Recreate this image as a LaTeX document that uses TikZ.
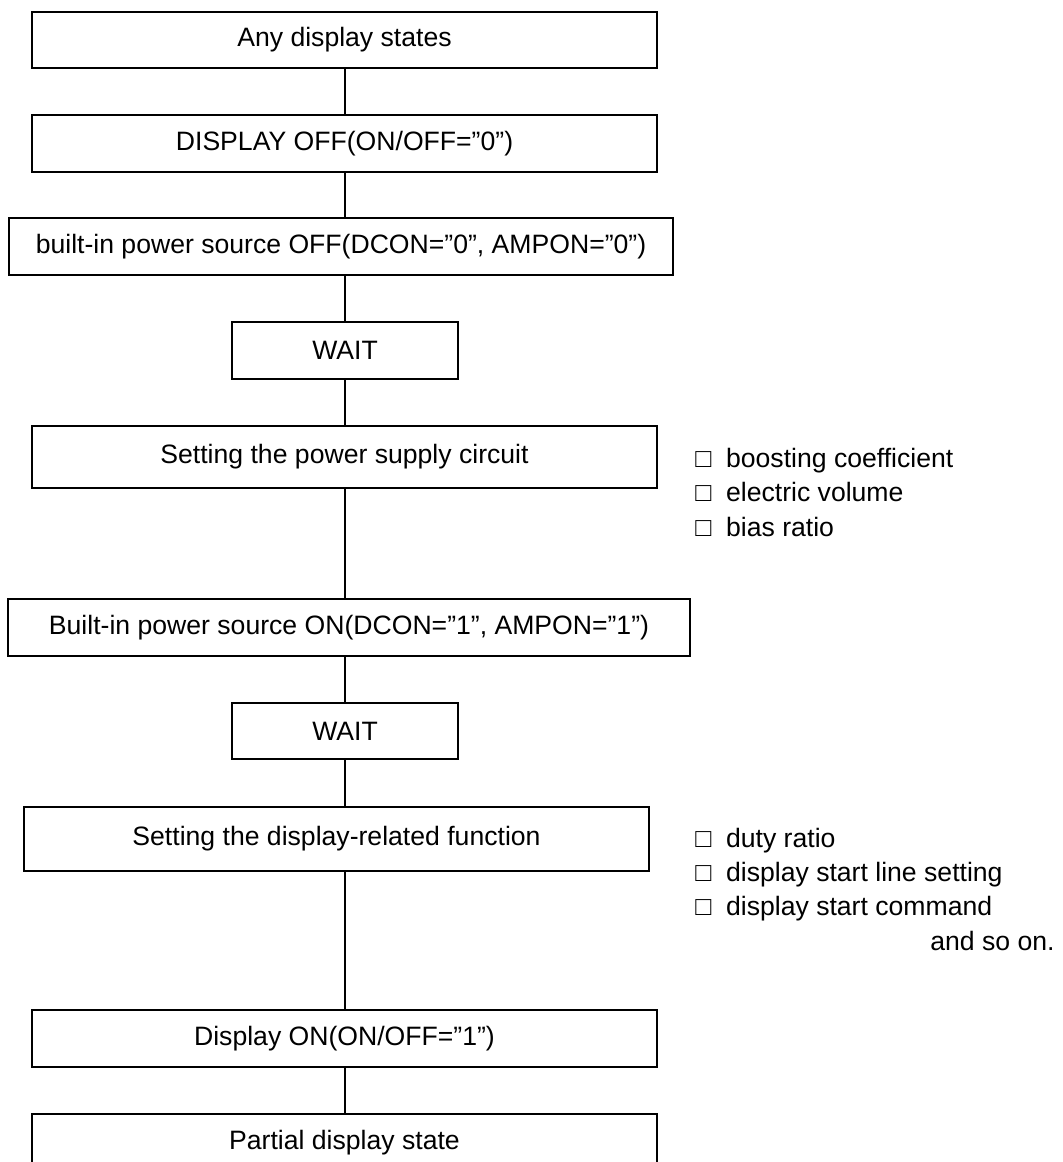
\documentclass[tikz,border=0pt]{standalone}
\usepackage{fontspec}
\setmainfont{Liberation Sans}
\newcommand{\cbx}{□\hspace{0.55em}}
\begin{document}
\begin{tikzpicture}[x=0.5pt,y=-0.5pt,
  every node/.style={font=\fontsize{13.3}{16}\selectfont},
  stepbox/.style={draw, line width=0.85pt, inner sep=0pt, anchor=center},
  conn/.style={line width=0.75pt},
  note/.style={anchor=base west, inner sep=0pt}]
\useasboundingbox (0,0) rectangle (1063,1162);
\coordinate (axis) at (345,0);
\node[stepbox, minimum width=312.5pt, minimum height=28pt] (b1) at (344.5,40) {Any display states};
\node[stepbox, minimum width=312.5pt, minimum height=28.5pt] (b2) at (344.5,143.5) {DISPLAY OFF(ON/OFF=”0”)};
\node[stepbox, minimum width=332pt, minimum height=28.5pt] (b3) at (341,246.5) {built-in power source OFF(DCON=”0”, AMPON=”0”)};
\node[stepbox, minimum width=113pt, minimum height=28.5pt] (b4) at (345,350.5) {WAIT};
\node[stepbox, minimum width=312.5pt, minimum height=31pt] (b5) at (344.5,457) {Setting the power supply circuit};
\node[stepbox, minimum width=341pt, minimum height=28.5pt] (b6) at (349,627.5) {Built-in power source ON(DCON=”1”, AMPON=”1”)};
\node[stepbox, minimum width=113pt, minimum height=28pt] (b7) at (345,731) {WAIT};
\node[stepbox, minimum width=312.5pt, minimum height=32pt] (b8) at (336.5,839) {Setting the display-related function};
\node[stepbox, minimum width=312.5pt, minimum height=28.5pt] (b9) at (344.5,1038.5) {Display ON(ON/OFF=”1”)};
\node[stepbox, minimum width=312.5pt, minimum height=29pt] (b10) at (344.5,1143) {Partial display state};
\foreach \a/\b in {b1/b2,b2/b3,b3/b4,b4/b5,b5/b6,b6/b7,b7/b8,b8/b9,b9/b10}
  \draw[conn] (\a.south -| axis) -- (\b.north -| axis);
\node[note] (n1) at (695,467) {\cbx boosting coefficient};
\node[note] (n2) at (695,501) {\cbx electric volume};
\node[note] (n3) at (695,536) {\cbx bias ratio};
\node[note] (n4) at (695,847) {\cbx duty ratio};
\node[note] (n5) at (695,881) {\cbx display start line setting};
\node[note] (n6) at (695,915) {\cbx display start command};
\node[anchor=base east, inner sep=0pt] (n7) at (1055,950) {and so on.};
\end{tikzpicture}
\end{document}
